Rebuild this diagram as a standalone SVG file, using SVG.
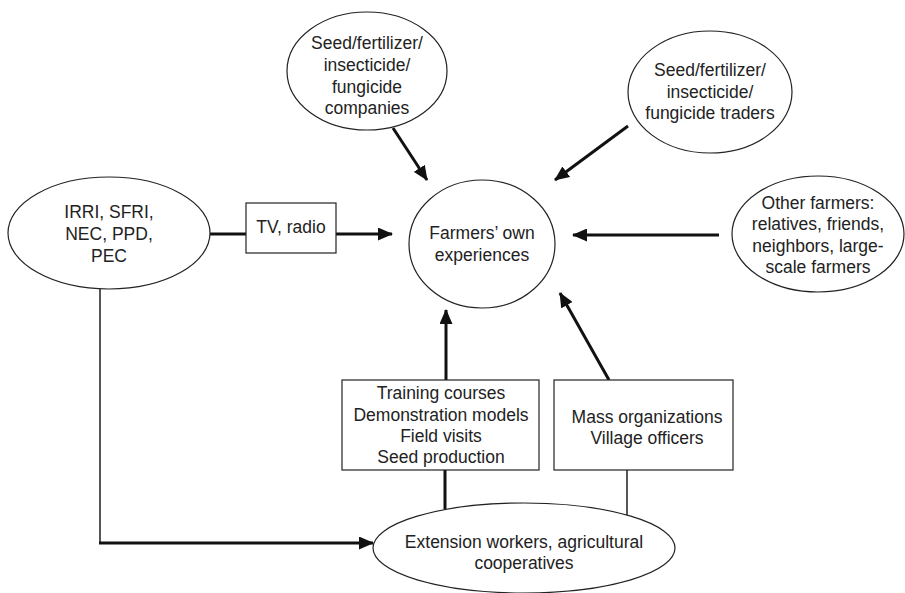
<svg xmlns="http://www.w3.org/2000/svg" width="905" height="593" viewBox="0 0 905 593">
<style>
text{font-family:"Liberation Sans",Arial,sans-serif;font-size:17.5px;fill:#222;text-anchor:middle}
.n{fill:#fff;stroke:#222;stroke-width:1.2}
.thick{stroke:#111;stroke-width:3;fill:none}
.thin{stroke:#111;stroke-width:1.4;fill:none}
</style>
<defs>
<marker id="ah" markerUnits="userSpaceOnUse" markerWidth="15" markerHeight="13" refX="14" refY="6.5" orient="auto">
<path d="M0,0 L15,6.5 L0,13 z" fill="#111"/>
</marker>
</defs>
<rect width="905" height="593" fill="#fff"/>
<g id="connectors">
<line class="thick" x1="393" y1="128" x2="427" y2="180" marker-end="url(#ah)"/>
<line class="thick" x1="628" y1="126" x2="555" y2="180" marker-end="url(#ah)"/>
<line class="thick" x1="210" y1="234" x2="246" y2="234"/>
<line class="thick" x1="336" y1="234" x2="392" y2="234" marker-end="url(#ah)"/>
<line class="thick" x1="719" y1="235" x2="573" y2="235" marker-end="url(#ah)"/>
<line class="thick" x1="446" y1="380" x2="446" y2="310" marker-end="url(#ah)"/>
<line class="thick" x1="609" y1="380" x2="560" y2="293" marker-end="url(#ah)"/>
<polyline class="thin" points="100,289 100,543 102,543"/>
<line class="thick" x1="99" y1="543" x2="373" y2="543" marker-end="url(#ah)"/>
<line class="thick" x1="445" y1="470" x2="445" y2="509"/>
<line class="thin" x1="627" y1="470" x2="627" y2="515"/>
</g>
<g id="companies">
<ellipse class="n" cx="367" cy="71" rx="80" ry="59"/>
<text x="367" y="49">Seed/fertilizer/</text>
<text x="367" y="71">insecticide/</text>
<text x="367" y="93">fungicide</text>
<text x="367" y="114">companies</text>
</g>
<g id="traders">
<ellipse class="n" cx="710" cy="92" rx="82" ry="61"/>
<text x="710" y="76">Seed/fertilizer/</text>
<text x="710" y="98">insecticide/</text>
<text x="710" y="119">fungicide traders</text>
</g>
<g id="institutes">
<ellipse class="n" cx="109" cy="233" rx="101" ry="56"/>
<text x="109" y="218">IRRI, SFRI,</text>
<text x="109" y="240">NEC, PPD,</text>
<text x="109" y="262">PEC</text>
</g>
<g id="tv">
<rect class="n" x="246" y="203" width="90" height="50"/>
<text x="291" y="233">TV, radio</text>
</g>
<g id="farmers">
<ellipse class="n" cx="482" cy="244" rx="73" ry="64"/>
<text x="482" y="239">Farmers’ own</text>
<text x="482" y="261">experiences</text>
</g>
<g id="others">
<ellipse class="n" cx="818" cy="234" rx="86" ry="58"/>
<text x="818" y="209">Other farmers:</text>
<text x="818" y="230">relatives, friends,</text>
<text x="818" y="252">neighbors, large-</text>
<text x="818" y="273">scale farmers</text>
</g>
<g id="training">
<rect class="n" x="342" y="380" width="197" height="90"/>
<text x="441" y="399">Training courses</text>
<text x="441" y="421">Demonstration models</text>
<text x="441" y="442">Field visits</text>
<text x="441" y="463">Seed production</text>
</g>
<g id="mass">
<rect class="n" x="554" y="380" width="179" height="90"/>
<text x="647" y="423">Mass organizations</text>
<text x="647" y="444">Village officers</text>
</g>
<g id="extension">
<ellipse class="n" cx="524" cy="548" rx="151" ry="45"/>
<text x="524" y="548">Extension workers, agricultural</text>
<text x="524" y="569">cooperatives</text>
</g>
</svg>
